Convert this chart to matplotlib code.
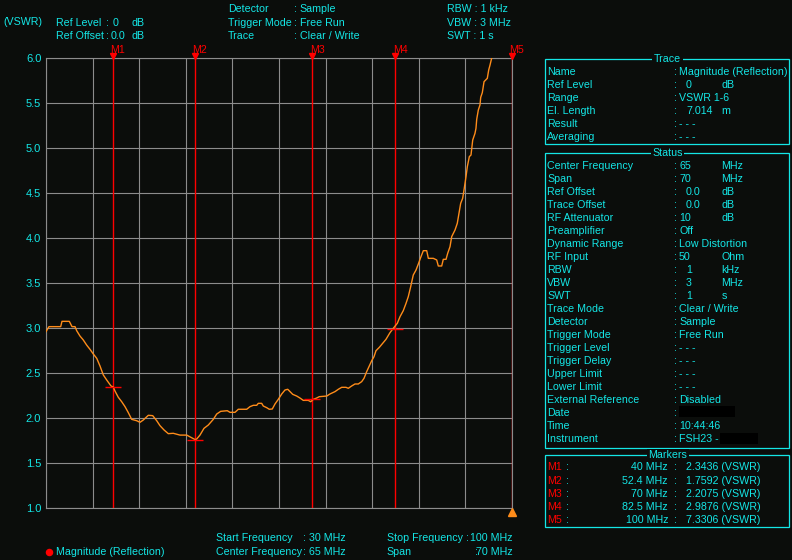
import numpy as np
import matplotlib
matplotlib.use('Agg')
import matplotlib.pyplot as plt
from matplotlib import font_manager as fm
from matplotlib.transforms import offset_copy
from matplotlib.patches import Rectangle
from matplotlib.lines import Line2D

# ---------------- data ----------------
freq_mhz = [30.00, 30.45, 32.21, 32.40, 33.50, 33.91, 34.36, 34.61, 35.11, 35.60,
            36.11, 36.61, 37.11, 37.62, 38.11, 38.61, 39.12, 39.76, 40.11, 40.36,
            40.86, 41.37, 41.87, 42.36, 42.87, 43.62, 44.12, 44.62, 45.37, 46.03,
            46.63, 47.12, 47.73, 48.37, 49.12, 50.13, 51.14, 51.89, 52.43, 52.64,
            53.13, 53.73, 54.38, 55.13, 55.64, 56.24, 57.23, 57.64, 58.39, 58.89,
            60.15, 60.64, 61.14, 61.65, 61.89, 62.40, 62.64, 63.15, 63.54, 63.99,
            64.40, 64.89, 65.41, 65.90, 66.31, 66.65, 67.06, 67.66, 68.15, 68.65,
            69.40, 69.76, 70.15, 70.66, 71.05, 72.17, 72.66, 73.41, 73.91, 74.42,
            75.06, 75.41, 75.92, 76.42, 76.91, 77.42, 77.77, 78.17, 78.56, 78.93,
            79.27, 79.57, 80.07, 81.07, 81.67, 82.17, 82.77, 83.18, 83.67, 84.08,
            84.42, 84.78, 85.17, 85.58, 85.93, 86.29, 86.68, 87.19, 87.43, 88.18,
            88.69, 88.93, 89.44, 89.68, 90.09, 90.34, 90.69, 90.94, 91.44, 91.78,
            92.04, 92.29, 92.59, 92.79, 93.09, 93.29, 93.59, 93.84, 94.10, 94.44,
            94.59, 94.70, 94.94, 95.19, 95.30, 95.54, 95.80, 96.29, 96.50, 96.70,
            96.95, 100.0]
vswr = [2.96, 3.015, 3.015, 3.074, 3.074, 3.015, 3.015, 2.97, 2.91, 2.867,
        2.81, 2.763, 2.711, 2.663, 2.578, 2.478, 2.422, 2.356, 2.344, 2.30,
        2.23, 2.181, 2.126, 2.06, 1.985, 1.97, 1.952, 1.978, 2.03, 2.026,
        1.97, 1.915, 1.867, 1.826, 1.83, 1.81, 1.81, 1.781, 1.759, 1.767,
        1.81, 1.885, 1.922, 1.985, 2.044, 2.074, 2.081, 2.063, 2.063, 2.097,
        2.097, 2.126, 2.141, 2.141, 2.163, 2.163, 2.133, 2.115, 2.097, 2.10,
        2.156, 2.207, 2.267, 2.311, 2.319, 2.293, 2.263, 2.244, 2.222, 2.196,
        2.196, 2.181, 2.207, 2.222, 2.237, 2.244, 2.267, 2.293, 2.319, 2.341,
        2.341, 2.33, 2.356, 2.378, 2.378, 2.404, 2.441, 2.515, 2.578, 2.637,
        2.681, 2.748, 2.785, 2.874, 2.948, 2.997, 3.052, 3.126, 3.193, 3.274,
        3.348, 3.459, 3.589, 3.644, 3.711, 3.785, 3.859, 3.859, 3.774, 3.774,
        3.756, 3.689, 3.689, 3.763, 3.763, 3.83, 3.904, 4.015, 4.089, 4.163,
        4.274, 4.385, 4.441, 4.533, 4.681, 4.793, 4.904, 4.922, 5.089, 5.163,
        5.219, 5.319, 5.422, 5.478, 5.563, 5.615, 5.737, 5.774, 5.867, 5.922,
        6.0, 7.3306]

marker_names = ['M1', 'M2', 'M3', 'M4', 'M5']
marker_freq = [40.0, 52.4, 70.0, 82.5, 100.0]
marker_vswr = [2.3436, 1.7592, 2.2075, 2.9876, 7.3306]
marker_freq_text = ['40 MHz', '52.4 MHz', '70 MHz', '82.5 MHz', '100 MHz']
marker_val_text = ['2.3436 (VSWR)', '1.7592 (VSWR)', '2.2075 (VSWR)', '2.9876 (VSWR)', '7.3306 (VSWR)']

x_start, x_stop = 30.0, 100.0
y_min, y_max = 1.0, 6.0
y_ticks = [1.0, 1.5, 2.0, 2.5, 3.0, 3.5, 4.0, 4.5, 5.0, 5.5, 6.0]
y_tick_labels = ['1.0', '1.5', '2.0', '2.5', '3.0', '3.5', '4.0', '4.5', '5.0', '5.5', '6.0']

# (label, value, unit, indented)
trace_rows = [
    ('Name', 'Magnitude (Reflection)', '', False),
    ('Ref Level', '0', 'dB', True),
    ('Range', 'VSWR 1-6', '', False),
    ('El. Length', '7.014', 'm', True),
    ('Result', '- - -', '', False),
    ('Averaging', '- - -', '', False),
]
status_rows = [
    ('Center Frequency', '65', 'MHz', False),
    ('Span', '70', 'MHz', False),
    ('Ref Offset', '0.0', 'dB', True),
    ('Trace Offset', '0.0', 'dB', True),
    ('RF Attenuator', '10', 'dB', False),
    ('Preamplifier', 'Off', '', False),
    ('Dynamic Range', 'Low Distortion', '', False),
    ('RF Input', '50', 'Ohm', False),
    ('RBW', '1', 'kHz', True),
    ('VBW', '3', 'MHz', True),
    ('SWT', '1', 's', True),
    ('Trace Mode', 'Clear / Write', '', False),
    ('Detector', 'Sample', '', False),
    ('Trigger Mode', 'Free Run', '', False),
    ('Trigger Level', '- - -', '', False),
    ('Trigger Delay', '- - -', '', False),
    ('Upper Limit', '- - -', '', False),
    ('Lower Limit', '- - -', '', False),
    ('External Reference', 'Disabled', '', False),
    ('Date', '', '', False),
    ('Time', '10:44:46', '', False),
    ('Instrument', 'FSH23 -', '', False),
]

# ---------------- style ----------------
BG = '#0b0d0b'
CYAN = '#14e6e6'
RED = '#ff0000'
ORANGE = '#ff8c1a'
GRID = '#8c8c8c'

names = {f.name for f in fm.fontManager.ttflist}
if 'Liberation Sans Narrow' in names:
    FONT = 'Liberation Sans Narrow'
    FS = 9.1
else:
    FONT = 'Liberation Sans'
    FS = 7.7
plt.rcParams['font.family'] = [FONT, 'DejaVu Sans']

W, H = 792, 560
fig = plt.figure(figsize=(W / 100, H / 100), dpi=100, facecolor=BG)


def T(x, y, s, color=CYAN, ha='left', size=FS, **kw):
    return fig.text(x / W, 1 - y / H, s, color=color, ha=ha, va='center',
                    fontsize=size, **kw)


# ---------------- main axes ----------------
L, R, TOP, BOT = 46, 512, 58, 508
ax = fig.add_axes([L / W, 1 - BOT / H, (R - L) / W, (BOT - TOP) / H])
ax.set_facecolor(BG)
ax.set_xlim(x_start, x_stop)
ax.set_ylim(y_min, y_max)
ax.set_xticks(np.linspace(x_start, x_stop, 11))
ax.set_yticks(y_ticks)
ax.set_yticklabels(y_tick_labels)
ax.tick_params(axis='both', length=0, colors=CYAN, labelsize=FS * 1.04)
ax.tick_params(axis='y', pad=3.4)
ax.set_xticklabels([])
ax.grid(True, color=GRID, lw=0.8)
for s in ax.spines.values():
    s.set_color(GRID)
    s.set_linewidth(0.8)

# marker vertical lines
for f in marker_freq:
    ax.axvline(f, color=RED, lw=1.0, zorder=3)

# trace
ax.plot(freq_mhz, vswr, color=ORANGE, lw=1.0, zorder=4)

# marker horizontal ticks
ax.plot(marker_freq, marker_vswr, ls='none', marker='_', markersize=11,
        mew=1.0, color=RED, zorder=5)

# marker triangles + labels at top
tri_tr = offset_copy(ax.transData, fig=fig, x=0, y=2.5, units='dots')
for f, name in zip(marker_freq, marker_names):
    ax.plot([f], [y_max], marker='v', markersize=4, color=RED, ls='none',
            transform=tri_tr, clip_on=False, zorder=6)
    ax.annotate(name, xy=(f, y_max), xycoords='data', xytext=(-1.8, 5.8),
                textcoords='offset points', color=RED, fontsize=FS,
                ha='left', va='center', annotation_clip=False)

# reference triangle bottom right
ref_tr = offset_copy(ax.transData, fig=fig, x=0, y=-3.5, units='dots')
ax.plot([x_stop], [y_min], marker='^', markersize=6, color=ORANGE, ls='none',
        transform=ref_tr, clip_on=False, zorder=6)

# ---------------- header ----------------
T(3, 22, '(VSWR)')
T(56, 23, 'Ref Level'); T(106, 23, ':'); T(113, 23, '0'); T(131, 23, 'dB')
T(56, 36, 'Ref Offset'); T(105.7, 36, ':'); T(111, 36, '0.0'); T(131, 36, 'dB')
T(228, 9.3, 'Detector'); T(294.4, 9.3, ':'); T(299.6, 9.3, 'Sample')
T(228, 23, 'Trigger Mode'); T(294.4, 23, ':'); T(299.6, 23, 'Free Run')
T(228, 36, 'Trace'); T(294.4, 36, ':'); T(299.6, 36, 'Clear / Write')
T(446.6, 9.3, 'RBW : 1 kHz')
T(446.6, 23, 'VBW : 3 MHz')
T(446.6, 36, 'SWT : 1 s')

# ---------------- footer ----------------
fig.add_artist(Line2D([49.2 / W], [1 - 551.7 / H], marker='o', markersize=4.4,
                      color=RED, transform=fig.transFigure, ls='none'))
T(56, 552, 'Magnitude (Reflection)')
T(215.6, 538.2, 'Start Frequency'); T(303, 538.2, ':'); T(309, 538.2, '30 MHz')
T(215.6, 552, 'Center Frequency'); T(302.5, 552, ':'); T(309, 552, '65 MHz')
T(386.7, 538.2, 'Stop Frequency'); T(465.5, 538.2, ':'); T(513, 538.2, '100 MHz', ha='right')
T(386.7, 552, 'Span'); T(474.5, 552, ':'); T(513, 552, '70 MHz', ha='right')


# ---------------- right panels ----------------
def box(y0, y1, title, tx):
    fig.add_artist(Rectangle((544.5 / W, 1 - y1 / H), (789 - 544.5) / W, (y1 - y0) / H,
                             transform=fig.transFigure, fill=False,
                             edgecolor=CYAN, lw=0.9))
    T(tx, y0, title, ha='center',
      bbox=dict(facecolor=BG, edgecolor='none', pad=1.2))


box(59, 144.3, 'Trace', 667.7)
box(152.7, 447.7, 'Status', 667.5)
box(455.3, 527.3, 'Markers', 668)


def rows(items, y0, dy):
    for i, (lab, val, unit, ind) in enumerate(items):
        y = y0 + dy * i
        T(547, y, lab)
        T(674, y, ':')
        if val:
            T(686 if ind else 679, y, val)
        if unit:
            T(721.5, y, unit)


rows(trace_rows, 72, 13)
rows(status_rows, 166, 13)

# redacted boxes
fig.add_artist(Rectangle((679 / W, 1 - 417 / H), (735 - 679) / W, (417 - 405.7) / H,
                         transform=fig.transFigure, facecolor='#000000', edgecolor='none'))
fig.add_artist(Rectangle((720 / W, 1 - 444 / H), (758 - 720) / W, (444 - 433) / H,
                         transform=fig.transFigure, facecolor='#000000', edgecolor='none'))

for i, (n, ft, vt) in enumerate(zip(marker_names, marker_freq_text, marker_val_text)):
    y = 467.3 + 13.2 * i
    T(547, y, n, color=RED)
    T(566, y, ':')
    T(668, y, ft, ha='right')
    T(674, y, ':')
    T(686, y, vt)

fig.savefig('out.png', dpi=100, facecolor=BG)
